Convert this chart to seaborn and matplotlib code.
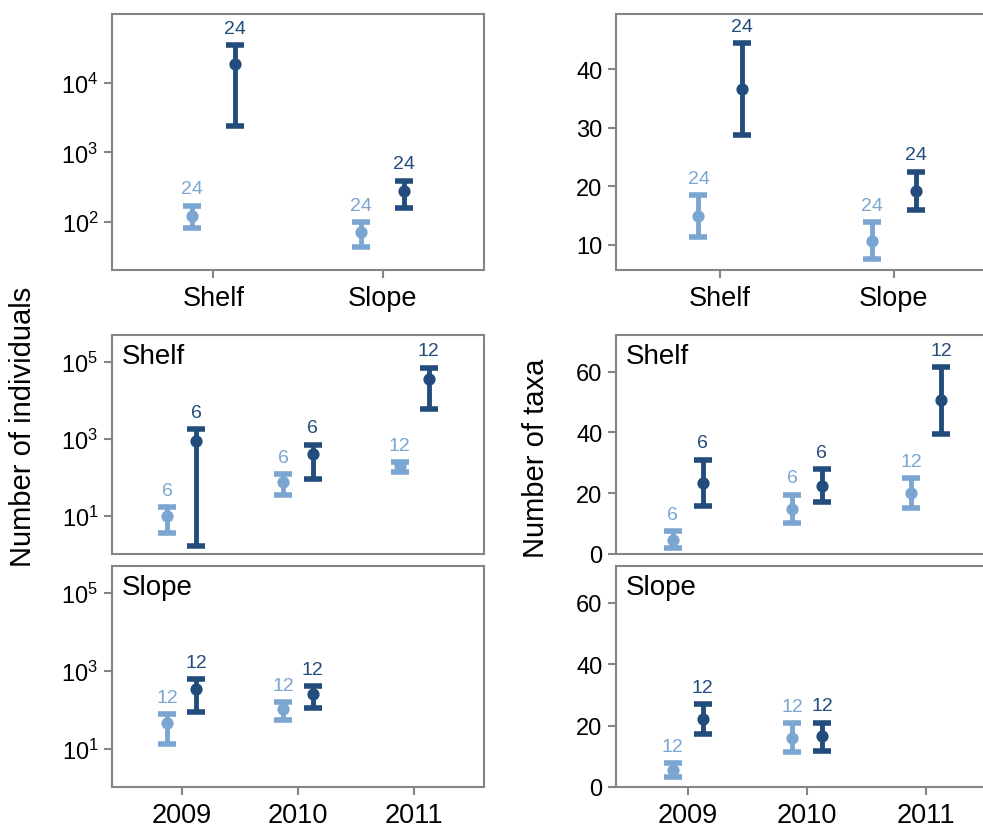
import matplotlib
matplotlib.use("Agg")
import numpy as np
import pandas as pd
import matplotlib.pyplot as plt
from matplotlib.ticker import FixedLocator, NullLocator, FixedFormatter
import seaborn as sns

sns.set_theme(style="white")
plt.rcParams["font.family"] = ["Liberation Sans", "DejaVu Sans"]
plt.rcParams["mathtext.fontset"] = "custom"
plt.rcParams["mathtext.rm"] = "Liberation Sans"
plt.rcParams["mathtext.it"] = "Liberation Sans:italic"
plt.rcParams["mathtext.bf"] = "Liberation Sans:bold"
plt.rcParams["text.color"] = "black"
plt.rcParams["xtick.labelcolor"] = "black"
plt.rcParams["ytick.labelcolor"] = "black"

# ---- data ---------------------------------------------------------------
groups = ["A", "B"]
palette = {"A": "#7CA6D2", "B": "#224C7C"}
regions = ["Shelf", "Slope"]
years = ["2009", "2010", "2011"]

# pooled over years, by region
pool_region = ["Shelf", "Shelf", "Slope", "Slope"]
pool_group = ["A", "B", "A", "B"]
pool_n = [24, 24, 24, 24]
pool_ind_mean = [123, 18600, 71, 277]
pool_ind_lo = [81, 2400, 44, 157]
pool_ind_hi = [172, 34500, 100, 392]
pool_taxa_mean = [14.9, 36.6, 10.7, 19.2]
pool_taxa_lo = [11.3, 28.7, 7.5, 16.0]
pool_taxa_hi = [18.5, 44.4, 13.9, 22.5]

# by year within each region
yr_region = ["Shelf"] * 6 + ["Slope"] * 4
yr_year = ["2009", "2009", "2010", "2010", "2011", "2011",
           "2009", "2009", "2010", "2010"]
yr_group = ["A", "B"] * 5
yr_n = [6, 6, 6, 6, 12, 12, 12, 12, 12, 12]
yr_ind_mean = [10, 890, 77, 400, 195, 37000, 45, 340, 105, 250]
yr_ind_lo = [3.6, 1.7, 35, 93, 140, 5900, 13.5, 87, 55, 115]
yr_ind_hi = [17, 1780, 124, 720, 250, 71000, 77, 610, 160, 410]
yr_taxa_mean = [4.7, 23.3, 14.8, 22.4, 20.0, 50.5, 5.5, 22.1, 16.1, 16.5]
yr_taxa_lo = [2.0, 15.8, 10.2, 17.0, 15.0, 39.5, 3.1, 17.2, 11.4, 11.8]
yr_taxa_hi = [7.4, 31.0, 19.5, 27.9, 25.0, 61.4, 7.7, 27.0, 20.8, 21.0]

pooled = pd.DataFrame({
    "region": pool_region, "group": pool_group, "n": pool_n,
    "ind": pool_ind_mean, "ind_lo": pool_ind_lo, "ind_hi": pool_ind_hi,
    "taxa": pool_taxa_mean, "taxa_lo": pool_taxa_lo, "taxa_hi": pool_taxa_hi,
})
yearly = pd.DataFrame({
    "region": yr_region, "year": yr_year, "group": yr_group, "n": yr_n,
    "ind": yr_ind_mean, "ind_lo": yr_ind_lo, "ind_hi": yr_ind_hi,
    "taxa": yr_taxa_mean, "taxa_lo": yr_taxa_lo, "taxa_hi": yr_taxa_hi,
})

# ---- styling ------------------------------------------------------------
FRAME = "#858585"
DODGE = 0.25
W, H = 983, 828


def panel(fig, x0, x1, y0, y1):
    """Axes from pixel box (left, right, top, bottom)."""
    return fig.add_axes([x0 / W, 1 - y1 / H, (x1 - x0) / W, (y1 - y0) / H])


def draw(ax, df, xcol, order, var, log):
    if log:
        ax.set_yscale("log")
    sns.pointplot(data=df, x=xcol, y=var, hue="group", order=order,
                  hue_order=groups, palette=palette, dodge=DODGE,
                  linestyle="none", errorbar=None, markers="o",
                  markersize=8.8, markeredgewidth=0, legend=False, ax=ax,
                  zorder=4)
    for _, r in df.iterrows():
        gi = groups.index(r["group"])
        x = order.index(r[xcol]) - DODGE / 2 + DODGE * gi
        col = palette[r["group"]]
        ax.errorbar([x], [r[var]],
                    yerr=[[r[var] - r[var + "_lo"]], [r[var + "_hi"] - r[var]]],
                    fmt="none", ecolor=col, elinewidth=3.5, capsize=6.2,
                    capthick=4.0, zorder=3)
        ax.annotate(str(r["n"]), xy=(x, r[var + "_hi"]), xytext=(0, 6),
                    textcoords="offset points", ha="center", va="bottom",
                    color=col, fontsize=14)
    ax.set_xlim(-0.6, len(order) - 0.4)
    ax.set_xlabel("")
    ax.set_ylabel("")
    for s in ax.spines.values():
        s.set_color(FRAME)
        s.set_linewidth(1.5)
    ax.tick_params(axis="both", which="major", direction="out", length=5.8,
                   width=1.5, color=FRAME, labelcolor="black",
                   left=True, bottom=True)
    ax.tick_params(axis="y", labelsize=17, pad=4)
    ax.tick_params(axis="x", labelsize=19.5, pad=5)
    ax.yaxis.set_minor_locator(NullLocator())
    ax.grid(False)


def log_ticks(ax, exps, lim):
    ax.set_ylim(*lim)
    ax.yaxis.set_major_locator(FixedLocator([10.0 ** e for e in exps]))
    ax.yaxis.set_major_formatter(FixedFormatter([rf"$10^{{{e}}}$" for e in exps]))
    ax.yaxis.set_minor_locator(NullLocator())


def corner_label(ax, text):
    ax.annotate(text, xy=(0, 1), xycoords="axes fraction", xytext=(7, -6),
                textcoords="offset points", ha="left", va="top", fontsize=20,
                color="black")


fig = plt.figure(figsize=(W / 100, H / 100), dpi=100)

LX0, LX1 = 112, 484
RX0, RX1 = 616, 998
ROWS = [(15, 271), (336, 555), (567, 788)]

# ---- individuals (left column) -----------------------------------------
ax = panel(fig, LX0, LX1, *ROWS[0])
draw(ax, pooled, "region", regions, "ind", log=True)
log_ticks(ax, [2, 3, 4], (10 ** 1.31, 10 ** 4.99))

for row, reg in zip(ROWS[1:], regions):
    ax = panel(fig, LX0, LX1, *row)
    draw(ax, yearly[yearly["region"] == reg], "year", years, "ind", log=True)
    log_ticks(ax, [1, 3, 5], (10 ** 0.02, 10 ** 5.7))
    corner_label(ax, reg)
    if reg == "Shelf":
        ax.tick_params(axis="x", bottom=False, labelbottom=False)

# ---- taxa (right column) -----------------------------------------------
ax = panel(fig, RX0, RX1, *ROWS[0])
draw(ax, pooled, "region", regions, "taxa", log=False)
ax.set_ylim(5.7, 49.4)
ax.set_yticks([10, 20, 30, 40])

for row, reg in zip(ROWS[1:], regions):
    ax = panel(fig, RX0, RX1, *row)
    draw(ax, yearly[yearly["region"] == reg], "year", years, "taxa", log=False)
    ax.set_ylim(0, 72)
    ax.set_yticks([0, 20, 40, 60])
    corner_label(ax, reg)
    if reg == "Shelf":
        ax.tick_params(axis="x", bottom=False, labelbottom=False)

fig.text(23 / W, 1 - 427 / H, "Number of individuals", rotation=90,
         ha="center", va="center", fontsize=21, color="black")
fig.text(536 / W, 1 - 458 / H, "Number of taxa", rotation=90,
         ha="center", va="center", fontsize=21, color="black")

fig.savefig("out.png", dpi=100)
